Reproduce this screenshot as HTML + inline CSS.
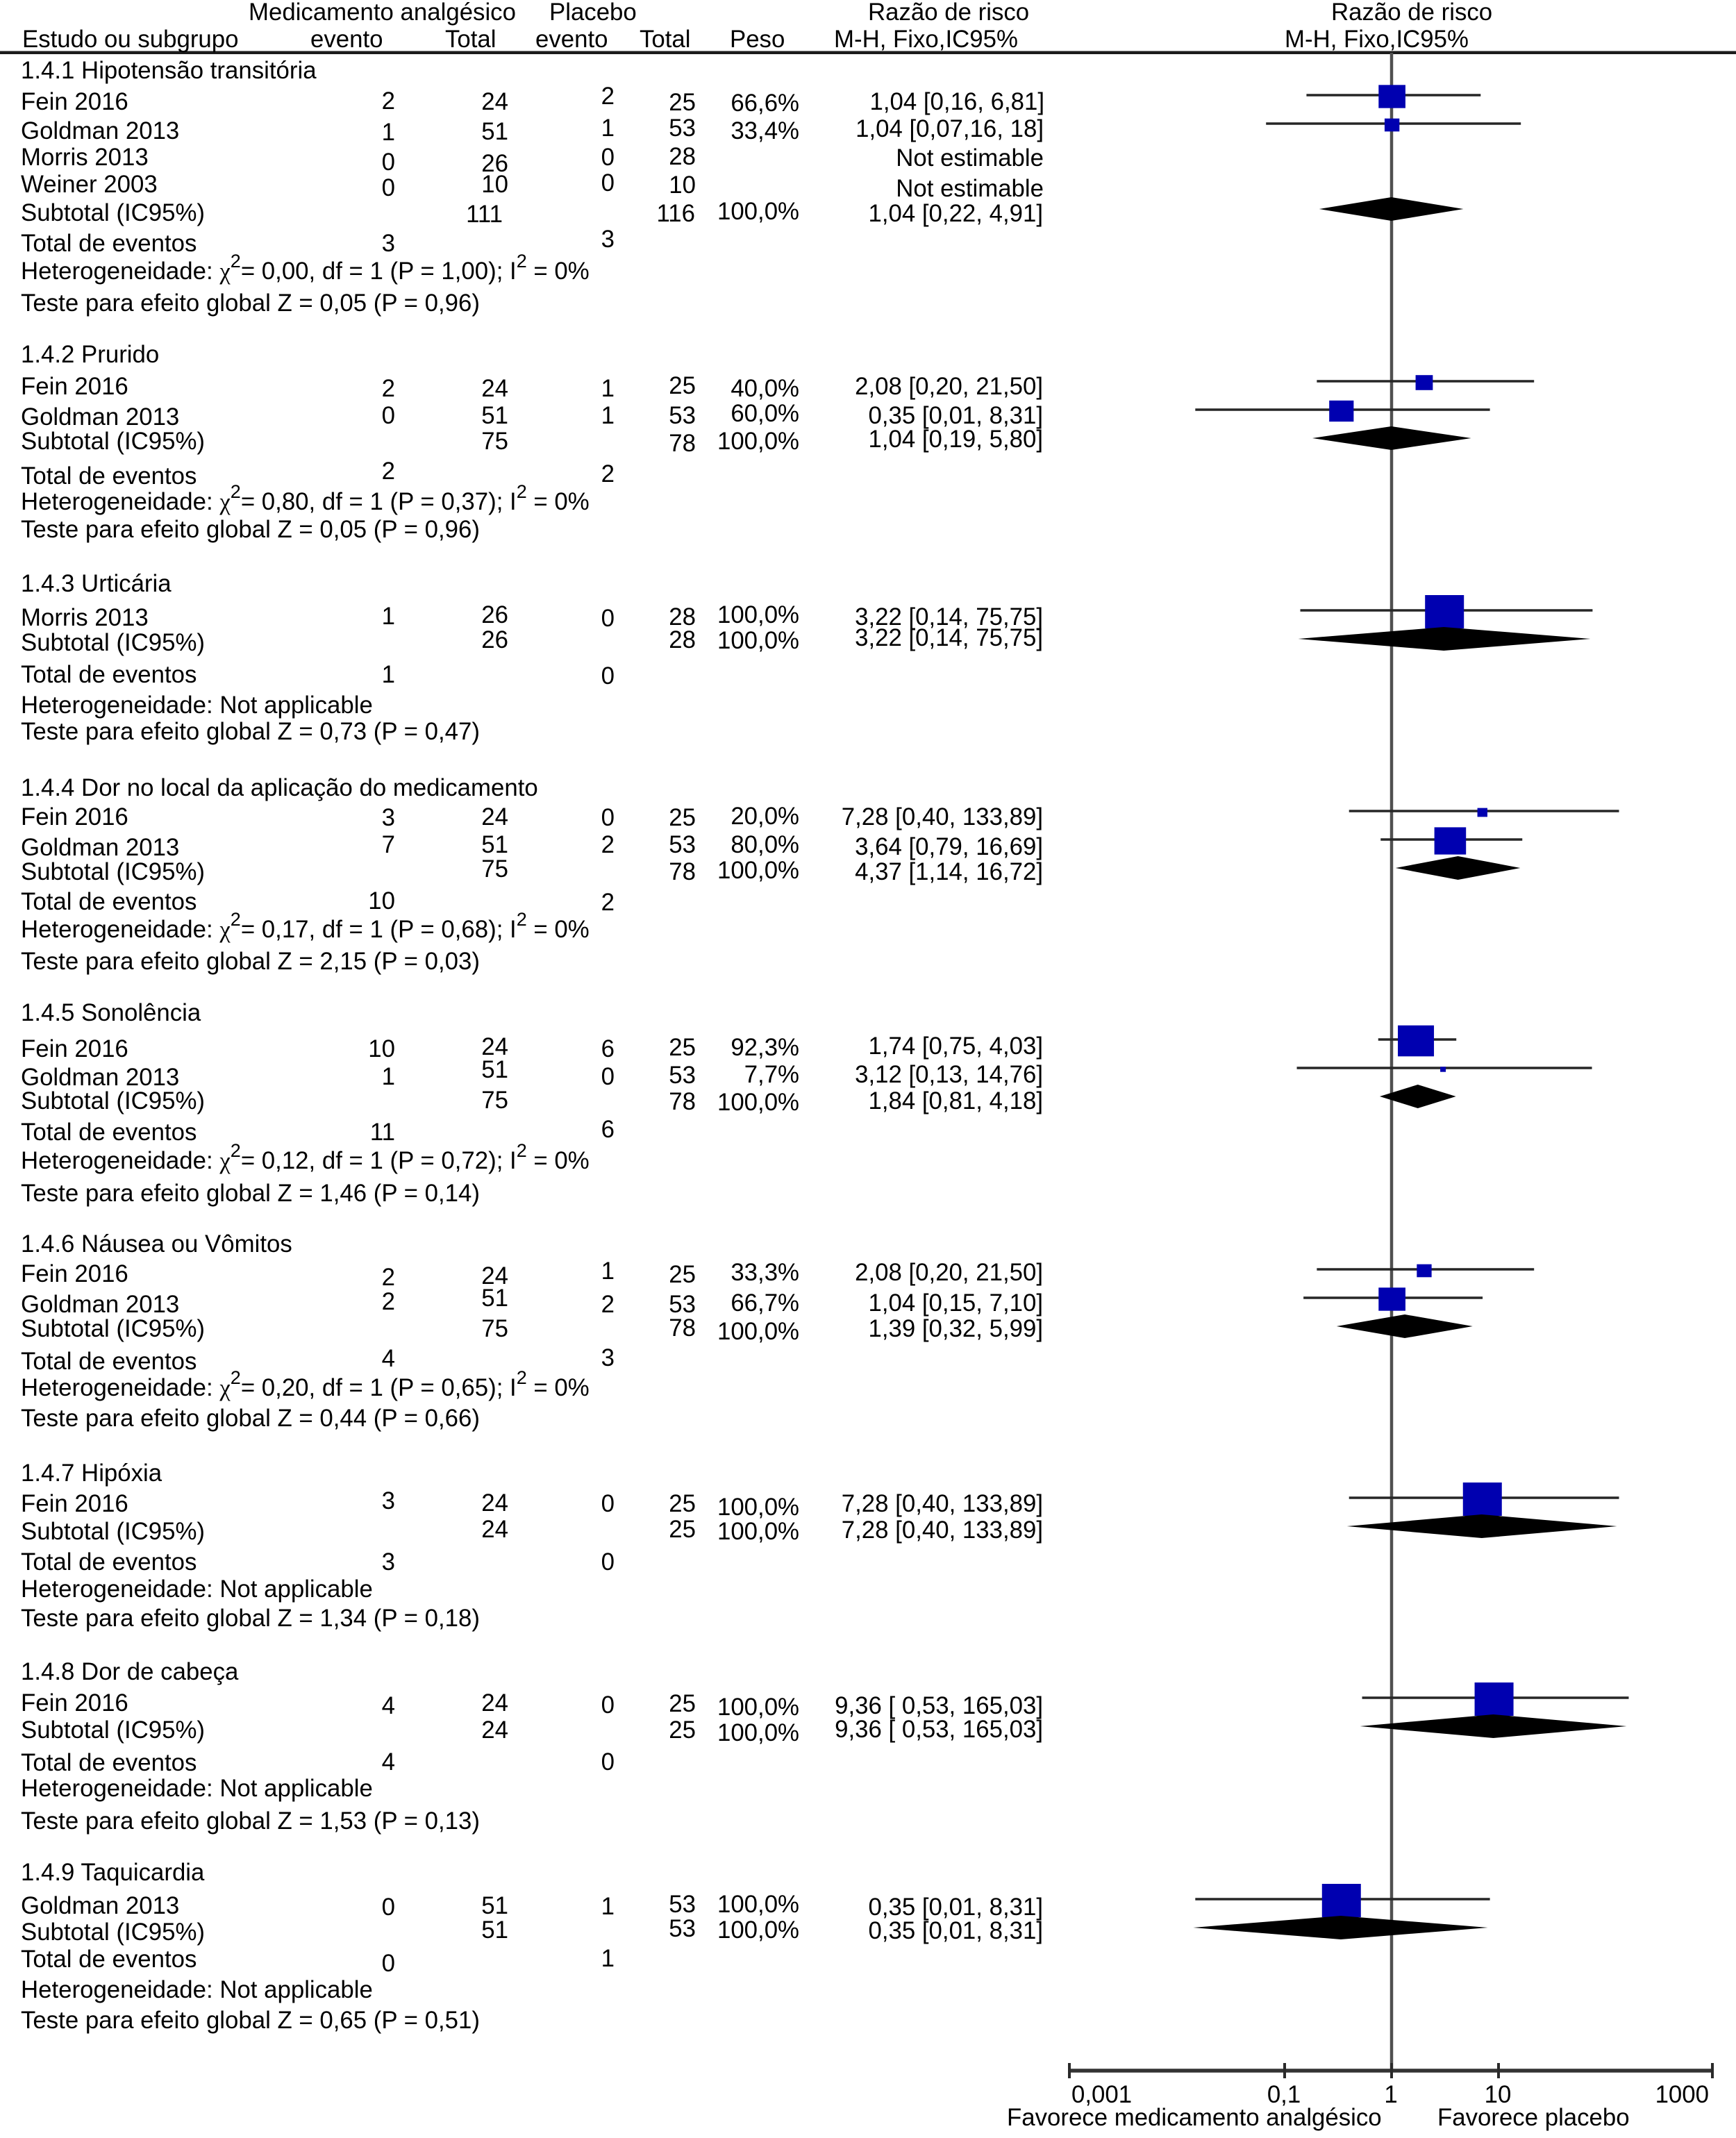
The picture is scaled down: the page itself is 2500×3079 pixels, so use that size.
<!DOCTYPE html>
<html lang="pt">
<head>
<meta charset="utf-8">
<title>Razão de risco - forest plot</title>
<style>
html,body{margin:0;padding:0;background:#fff;}
svg{display:block;}
text{font-family:"Liberation Sans",sans-serif;font-size:34.8px;fill:#000;}
.e{text-anchor:end;}
.m{text-anchor:middle;}
.s{font-size:27px;}
.g{font-family:"Liberation Serif",serif;}
</style>
</head>
<body>
<svg id="plot" xmlns="http://www.w3.org/2000/svg" width="2500" height="3079" viewBox="0 0 2500 3079">
<rect x="0" y="0" width="2500" height="3079" fill="#fff"/>
<g id="marks"></g>
<g id="axis"></g>

<g>
<text x="358" y="29">Medicamento analgésico</text>
<text x="791" y="29">Placebo</text>
<text x="1250" y="29">Razão de risco</text>
<text x="1917" y="29">Razão de risco</text>
<text x="32" y="68">Estudo ou subgrupo</text>
<text x="447" y="68">evento</text>
<text x="641" y="68">Total</text>
<text x="771" y="68">evento</text>
<text x="921" y="68">Total</text>
<text x="1051" y="68">Peso</text>
<text x="1201" y="68">M-H, Fixo,IC95%</text>
<text x="1850" y="68">M-H, Fixo,IC95%</text>
</g>

<g>
<text x="30" y="113">1.4.1 Hipotensão transitória</text>
<text x="30" y="158">Fein 2016</text>
<text class="e" x="569" y="157">2</text>
<text class="e" x="732" y="158">24</text>
<text class="e" x="885" y="150">2</text>
<text class="e" x="1002" y="159">25</text>
<text class="e" x="1151" y="160">66,6%</text>
<text class="e" x="1504" y="158">1,04 [0,16, 6,81]</text>
<text x="30" y="200">Goldman 2013</text>
<text class="e" x="569" y="202">1</text>
<text class="e" x="732" y="201">51</text>
<text class="e" x="885" y="196">1</text>
<text class="e" x="1002" y="196">53</text>
<text class="e" x="1151" y="200">33,4%</text>
<text class="e" x="1503" y="197">1,04 [0,07,16, 18]</text>
<text x="30" y="238">Morris 2013</text>
<text class="e" x="569" y="245">0</text>
<text class="e" x="732" y="247">26</text>
<text class="e" x="885" y="238">0</text>
<text class="e" x="1002" y="237">28</text>
<text class="e" x="1503" y="239">Not estimable</text>
<text x="30" y="277">Weiner 2003</text>
<text class="e" x="569" y="282">0</text>
<text class="e" x="732" y="277">10</text>
<text class="e" x="885" y="275">0</text>
<text class="e" x="1002" y="278">10</text>
<text class="e" x="1503" y="283">Not estimable</text>
<text x="30" y="318">Subtotal (IC95%)</text>
<text class="e" x="724" y="320">111</text>
<text class="e" x="1001" y="319">116</text>
<text class="e" x="1151" y="316">100,0%</text>
<text class="e" x="1502" y="319">1,04 [0,22, 4,91]</text>
<text x="30" y="362">Total de eventos</text>
<text class="e" x="569" y="362">3</text>
<text class="e" x="885" y="356">3</text>
<text x="30" y="402">Heterogeneidade: <tspan class="g">χ</tspan><tspan class="s" dy="-17">2</tspan><tspan dy="17">= 0,00, df = 1 (P = 1,00); I</tspan><tspan class="s" dy="-17">2</tspan><tspan dy="17"> = 0%</tspan></text>
<text x="30" y="448">Teste para efeito global Z = 0,05 (P = 0,96)</text>
</g>

<g>
<text x="30" y="522">1.4.2 Prurido</text>
<text x="30" y="568">Fein 2016</text>
<text class="e" x="569" y="571">2</text>
<text class="e" x="732" y="571">24</text>
<text class="e" x="885" y="571">1</text>
<text class="e" x="1002" y="567">25</text>
<text class="e" x="1151" y="571">40,0%</text>
<text class="e" x="1502" y="568">2,08 [0,20, 21,50]</text>
<text x="30" y="612">Goldman 2013</text>
<text class="e" x="569" y="610">0</text>
<text class="e" x="732" y="610">51</text>
<text class="e" x="885" y="610">1</text>
<text class="e" x="1002" y="610">53</text>
<text class="e" x="1151" y="607">60,0%</text>
<text class="e" x="1502" y="610">0,35 [0,01, 8,31]</text>
<text x="30" y="647">Subtotal (IC95%)</text>
<text class="e" x="732" y="647">75</text>
<text class="e" x="1002" y="650">78</text>
<text class="e" x="1151" y="647">100,0%</text>
<text class="e" x="1502" y="644">1,04 [0,19, 5,80]</text>
<text x="30" y="697">Total de eventos</text>
<text class="e" x="569" y="690">2</text>
<text class="e" x="885" y="694">2</text>
<text x="30" y="734">Heterogeneidade: <tspan class="g">χ</tspan><tspan class="s" dy="-17">2</tspan><tspan dy="17">= 0,80, df = 1 (P = 0,37); I</tspan><tspan class="s" dy="-17">2</tspan><tspan dy="17"> = 0%</tspan></text>
<text x="30" y="774">Teste para efeito global Z = 0,05 (P = 0,96)</text>
</g>

<g>
<text x="30" y="852">1.4.3 Urticária</text>
<text x="30" y="901">Morris 2013</text>
<text class="e" x="569" y="899">1</text>
<text class="e" x="732" y="897">26</text>
<text class="e" x="885" y="902">0</text>
<text class="e" x="1002" y="900">28</text>
<text class="e" x="1151" y="897">100,0%</text>
<text class="e" x="1502" y="900">3,22 [0,14, 75,75]</text>
<text x="30" y="937">Subtotal (IC95%)</text>
<text class="e" x="732" y="933">26</text>
<text class="e" x="1002" y="933">28</text>
<text class="e" x="1151" y="934">100,0%</text>
<text class="e" x="1502" y="930">3,22 [0,14, 75,75]</text>
<text x="30" y="983">Total de eventos</text>
<text class="e" x="569" y="983">1</text>
<text class="e" x="885" y="985">0</text>
<text x="30" y="1027">Heterogeneidade: Not applicable</text>
<text x="30" y="1065">Teste para efeito global Z = 0,73 (P = 0,47)</text>
</g>

<g>
<text x="30" y="1146">1.4.4 Dor no local da aplicação do medicamento</text>
<text x="30" y="1188">Fein 2016</text>
<text class="e" x="569" y="1189">3</text>
<text class="e" x="732" y="1188">24</text>
<text class="e" x="885" y="1189">0</text>
<text class="e" x="1002" y="1189">25</text>
<text class="e" x="1151" y="1187">20,0%</text>
<text class="e" x="1502" y="1188">7,28 [0,40, 133,89]</text>
<text x="30" y="1232">Goldman 2013</text>
<text class="e" x="569" y="1228">7</text>
<text class="e" x="732" y="1228">51</text>
<text class="e" x="885" y="1228">2</text>
<text class="e" x="1002" y="1228">53</text>
<text class="e" x="1151" y="1228">80,0%</text>
<text class="e" x="1502" y="1231">3,64 [0,79, 16,69]</text>
<text x="30" y="1267">Subtotal (IC95%)</text>
<text class="e" x="732" y="1263">75</text>
<text class="e" x="1002" y="1267">78</text>
<text class="e" x="1151" y="1265">100,0%</text>
<text class="e" x="1502" y="1267">4,37 [1,14, 16,72]</text>
<text x="30" y="1310">Total de eventos</text>
<text class="e" x="569" y="1309">10</text>
<text class="e" x="885" y="1311">2</text>
<text x="30" y="1350">Heterogeneidade: <tspan class="g">χ</tspan><tspan class="s" dy="-17">2</tspan><tspan dy="17">= 0,17, df = 1 (P = 0,68); I</tspan><tspan class="s" dy="-17">2</tspan><tspan dy="17"> = 0%</tspan></text>
<text x="30" y="1396">Teste para efeito global Z = 2,15 (P = 0,03)</text>
</g>

<g>
<text x="30" y="1470">1.4.5 Sonolência</text>
<text x="30" y="1522">Fein 2016</text>
<text class="e" x="569" y="1522">10</text>
<text class="e" x="732" y="1519">24</text>
<text class="e" x="885" y="1522">6</text>
<text class="e" x="1002" y="1520">25</text>
<text class="e" x="1151" y="1520">92,3%</text>
<text class="e" x="1502" y="1518">1,74 [0,75, 4,03]</text>
<text x="30" y="1563">Goldman 2013</text>
<text class="e" x="569" y="1562">1</text>
<text class="e" x="732" y="1552">51</text>
<text class="e" x="885" y="1562">0</text>
<text class="e" x="1002" y="1560">53</text>
<text class="e" x="1151" y="1559">7,7%</text>
<text class="e" x="1502" y="1559">3,12 [0,13, 14,76]</text>
<text x="30" y="1597">Subtotal (IC95%)</text>
<text class="e" x="732" y="1596">75</text>
<text class="e" x="1002" y="1598">78</text>
<text class="e" x="1151" y="1599">100,0%</text>
<text class="e" x="1502" y="1597">1,84 [0,81, 4,18]</text>
<text x="30" y="1642">Total de eventos</text>
<text class="e" x="569" y="1642">11</text>
<text class="e" x="885" y="1638">6</text>
<text x="30" y="1683">Heterogeneidade: <tspan class="g">χ</tspan><tspan class="s" dy="-17">2</tspan><tspan dy="17">= 0,12, df = 1 (P = 0,72); I</tspan><tspan class="s" dy="-17">2</tspan><tspan dy="17"> = 0%</tspan></text>
<text x="30" y="1730">Teste para efeito global Z = 1,46 (P = 0,14)</text>
</g>

<g>
<text x="30" y="1803">1.4.6 Náusea ou Vômitos</text>
<text x="30" y="1846">Fein 2016</text>
<text class="e" x="569" y="1851">2</text>
<text class="e" x="732" y="1849">24</text>
<text class="e" x="885" y="1842">1</text>
<text class="e" x="1002" y="1847">25</text>
<text class="e" x="1151" y="1844">33,3%</text>
<text class="e" x="1502" y="1844">2,08 [0,20, 21,50]</text>
<text x="30" y="1890">Goldman 2013</text>
<text class="e" x="569" y="1886">2</text>
<text class="e" x="732" y="1881">51</text>
<text class="e" x="885" y="1890">2</text>
<text class="e" x="1002" y="1890">53</text>
<text class="e" x="1151" y="1888">66,7%</text>
<text class="e" x="1502" y="1888">1,04 [0,15, 7,10]</text>
<text x="30" y="1925">Subtotal (IC95%)</text>
<text class="e" x="732" y="1925">75</text>
<text class="e" x="1002" y="1924">78</text>
<text class="e" x="1151" y="1929">100,0%</text>
<text class="e" x="1502" y="1925">1,39 [0,32, 5,99]</text>
<text x="30" y="1972">Total de eventos</text>
<text class="e" x="569" y="1968">4</text>
<text class="e" x="885" y="1967">3</text>
<text x="30" y="2010">Heterogeneidade: <tspan class="g">χ</tspan><tspan class="s" dy="-17">2</tspan><tspan dy="17">= 0,20, df = 1 (P = 0,65); I</tspan><tspan class="s" dy="-17">2</tspan><tspan dy="17"> = 0%</tspan></text>
<text x="30" y="2054">Teste para efeito global Z = 0,44 (P = 0,66)</text>
</g>

<g>
<text x="30" y="2133">1.4.7 Hipóxia</text>
<text x="30" y="2177">Fein 2016</text>
<text class="e" x="569" y="2173">3</text>
<text class="e" x="732" y="2176">24</text>
<text class="e" x="885" y="2177">0</text>
<text class="e" x="1002" y="2177">25</text>
<text class="e" x="1151" y="2182">100,0%</text>
<text class="e" x="1502" y="2177">7,28 [0,40, 133,89]</text>
<text x="30" y="2217">Subtotal (IC95%)</text>
<text class="e" x="732" y="2214">24</text>
<text class="e" x="1002" y="2214">25</text>
<text class="e" x="1151" y="2217">100,0%</text>
<text class="e" x="1502" y="2215">7,28 [0,40, 133,89]</text>
<text x="30" y="2261">Total de eventos</text>
<text class="e" x="569" y="2261">3</text>
<text class="e" x="885" y="2261">0</text>
<text x="30" y="2300">Heterogeneidade: Not applicable</text>
<text x="30" y="2342">Teste para efeito global Z = 1,34 (P = 0,18)</text>
</g>

<g>
<text x="30" y="2419">1.4.8 Dor de cabeça</text>
<text x="30" y="2464">Fein 2016</text>
<text class="e" x="569" y="2468">4</text>
<text class="e" x="732" y="2464">24</text>
<text class="e" x="885" y="2467">0</text>
<text class="e" x="1002" y="2465">25</text>
<text class="e" x="1151" y="2470">100,0%</text>
<text class="e" x="1502" y="2468">9,36 [ 0,53, 165,03]</text>
<text x="30" y="2503">Subtotal (IC95%)</text>
<text class="e" x="732" y="2503">24</text>
<text class="e" x="1002" y="2503">25</text>
<text class="e" x="1151" y="2507">100,0%</text>
<text class="e" x="1502" y="2502">9,36 [ 0,53, 165,03]</text>
<text x="30" y="2550">Total de eventos</text>
<text class="e" x="569" y="2549">4</text>
<text class="e" x="885" y="2549">0</text>
<text x="30" y="2587">Heterogeneidade: Not applicable</text>
<text x="30" y="2634">Teste para efeito global Z = 1,53 (P = 0,13)</text>
</g>

<g>
<text x="30" y="2708">1.4.9 Taquicardia</text>
<text x="30" y="2756">Goldman 2013</text>
<text class="e" x="569" y="2758">0</text>
<text class="e" x="732" y="2756">51</text>
<text class="e" x="885" y="2757">1</text>
<text class="e" x="1002" y="2754">53</text>
<text class="e" x="1151" y="2754">100,0%</text>
<text class="e" x="1502" y="2758">0,35 [0,01, 8,31]</text>
<text x="30" y="2794">Subtotal (IC95%)</text>
<text class="e" x="732" y="2791">51</text>
<text class="e" x="1002" y="2789">53</text>
<text class="e" x="1151" y="2791">100,0%</text>
<text class="e" x="1502" y="2792">0,35 [0,01, 8,31]</text>
<text x="30" y="2833">Total de eventos</text>
<text class="e" x="569" y="2839">0</text>
<text class="e" x="885" y="2832">1</text>
<text x="30" y="2877">Heterogeneidade: Not applicable</text>
<text x="30" y="2921">Teste para efeito global Z = 0,65 (P = 0,51)</text>
</g>

<text x="1450" y="3061">Favorece medicamento analgésico</text>
<text x="2070" y="3061">Favorece placebo</text>
</svg>

<script>
// Forest-plot data
const rowStudy  = ['Fein','Goldman','Subtotal','Fein','Goldman','Subtotal','Morris','Subtotal','Fein','Goldman','Subtotal','Fein','Goldman','Subtotal','Fein','Goldman','Subtotal','Fein','Subtotal','Fein','Subtotal','Goldman','Subtotal'];
const rowGroup  = [0,0,0,1,1,1,2,2,3,3,3,4,4,4,5,5,5,6,6,7,7,8,8];
const rowSlot   = [0,1,4,0,1,2,0,1,0,1,2,0,1,2,0,1,2,0,1,0,1,0,1];
const riskRatio = [1.04,1.04,1.04,2.08,0.35,1.04,3.22,3.22,7.28,3.64,4.37,1.74,3.12,1.84,2.08,1.04,1.39,7.28,7.28,9.36,9.36,0.35,0.35];
const ciLow     = [0.16,0.067,0.22,0.20,0.0146,0.19,0.14,0.14,0.40,0.79,1.14,0.75,0.13,0.81,0.20,0.15,0.32,0.40,0.40,0.53,0.53,0.0146,0.0146];
const ciHigh    = [6.81,16.18,4.91,21.50,8.31,5.80,75.75,75.75,133.89,16.69,16.72,4.03,74.76,4.18,21.50,7.10,5.99,133.89,133.89,165.03,165.03,8.31,8.31];
const weightPct = [66.6,33.4,100,40,60,100,100,100,20,80,100,92.3,7.7,100,33.3,66.7,100,100,100,100,100,100,100];
const tickValues = [0.001,0.1,1,10,1000];
const tickLabels = ['0,001','0,1','1','10','1000'];

const NS = 'http://www.w3.org/2000/svg';
function xScale(v){ return 2004 + 154 * Math.log10(v); }
function yScale(group, slot){
  const starts = [137,549,879,1168,1497,1828,2157,2445,2735];
  return starts[group] + slot * 41;
}
function make(tag, parent, props){
  const el = document.createElementNS(NS, tag);
  for (const k in props) el.setAttribute(k, props[k]);
  parent.appendChild(el);
  return el;
}
const marks = document.getElementById('marks');
const axis = document.getElementById('axis');

const headerRule = make('rect', marks, {x:0, y:73.5, width:2500, height:4.5, fill:'#1c1c1c'});



const refLine = make('line', marks, {x1:xScale(1), x2:xScale(1), y1:76, y2:2982, stroke:'#505050', 'stroke-width':4.5});



riskRatio.forEach(function(rr, i){
  const y = yScale(rowGroup[i], rowSlot[i]);
  const slug = 'g' + (rowGroup[i] + 1) + '-' + rowStudy[i].toLowerCase();
  if (rowStudy[i] === 'Subtotal') {
    const nudge = -3;
    const l = xScale(ciLow[i]) + nudge, h = xScale(ciHigh[i]) + nudge, c = xScale(rr) + nudge;
    const dia = make('polygon', marks, {points: l+','+y+' '+c+','+(y-17)+' '+h+','+y+' '+c+','+(y+17), fill:'#000'});
    
    
  } else {
    const ci = make('line', marks, {x1:xScale(ciLow[i]), x2:xScale(ciHigh[i]), y1:y, y2:y, stroke:'#262626', 'stroke-width':3.6});
    
    
    const w = 4 + 0.52 * weightPct[i], hgt = 4 + 0.44 * weightPct[i];
    const sq = make('rect', marks, {x:xScale(rr) - 2 - w/2, y:y + 2 - hgt/2, width:w, height:hgt, fill:'#0000b0'});
    
    
  }
});

const axisLine = make('line', axis, {x1:xScale(tickValues[0]) - 2, x2:xScale(tickValues[tickValues.length-1]), y1:2982, y2:2982, stroke:'#333', 'stroke-width':5.5});



tickValues.forEach(function(v, i){
  const first = i === 0, last = i === tickValues.length - 1;
  const x = xScale(v) - (first ? 2 : 0);
  const tick = make('line', axis, {x1:x, x2:x, y1:2971, y2:2993, stroke:'#2a2a2a', 'stroke-width':4});
  
  
  const label = make('text', axis, {x: first ? x + 3 : last ? x - 5 : x - 1, y:3028, 'text-anchor': first ? 'start' : last ? 'end' : 'middle'});
  label.textContent = tickLabels[i];
  
  
});
</script>
</body>
</html>
